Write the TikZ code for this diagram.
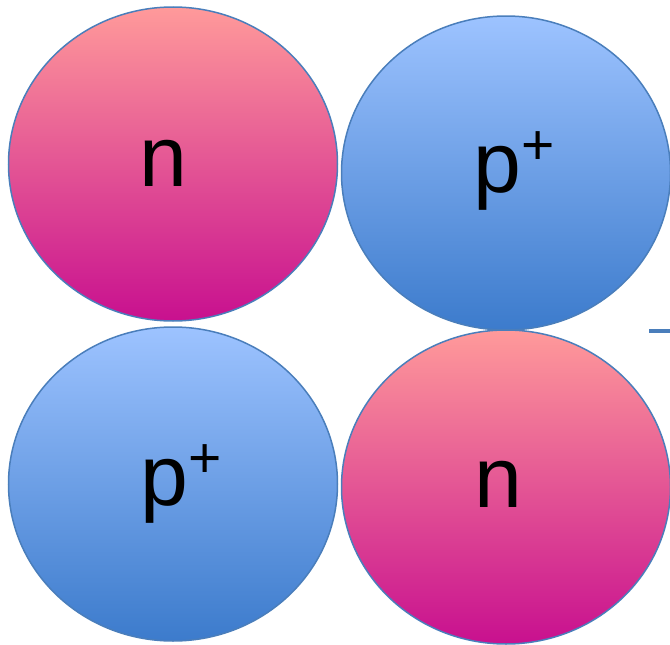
\documentclass[tikz,border=0pt]{standalone}
\usepackage{fontspec}
\setmainfont{Liberation Sans}
\usetikzlibrary{shapes.geometric}
\definecolor{pinktop}{HTML}{FF9A9A}
\definecolor{pinkbot}{HTML}{C8108F}
\definecolor{bluetop}{HTML}{9DC3FF}
\definecolor{bluebot}{HTML}{3C7BCC}
\definecolor{rim}{HTML}{4A7EBB}
\newcommand{\plusup}{\raisebox{28pt}{\fontsize{57}{57}\selectfont +}}
\tikzset{
    nucleon/.style={ellipse, draw=rim, line width=1.5pt, inner sep=0pt,
        minimum width=329pt, minimum height=314pt},
    neutron/.style={nucleon, top color=pinktop, bottom color=pinkbot},
    proton/.style={nucleon, top color=bluetop, bottom color=bluebot},
    tag/.style={anchor=base, inner sep=0pt, font=\fontsize{86}{86}\selectfont}
}
\begin{document}
\begin{tikzpicture}[x=1pt, y=-1pt]
    \useasboundingbox (0,0) rectangle (670,645);
    \clip (0,0) rectangle (670,645);

    % Top row
    \node[neutron] (ntop) at (173,164) {};
    \node[proton] (ptop) at (506,173) {};
    \node[tag] (ntoplab) at (163,186) {n};
    \node[tag] (ptoplab) at (514,192) {p\plusup};

    % Bottom row
    \node[proton] (pbot) at (173,484) {};
    \node[neutron] (nbot) at (506,487) {};
    \node[tag] (pbotlab) at (181,505) {p\plusup};
    \node[tag] (nbotlab) at (498.5,507) {n};

    % Stub at the right edge
    \draw[rim, line width=4pt] (649,331) -- (672,331);
\end{tikzpicture}
\end{document}
